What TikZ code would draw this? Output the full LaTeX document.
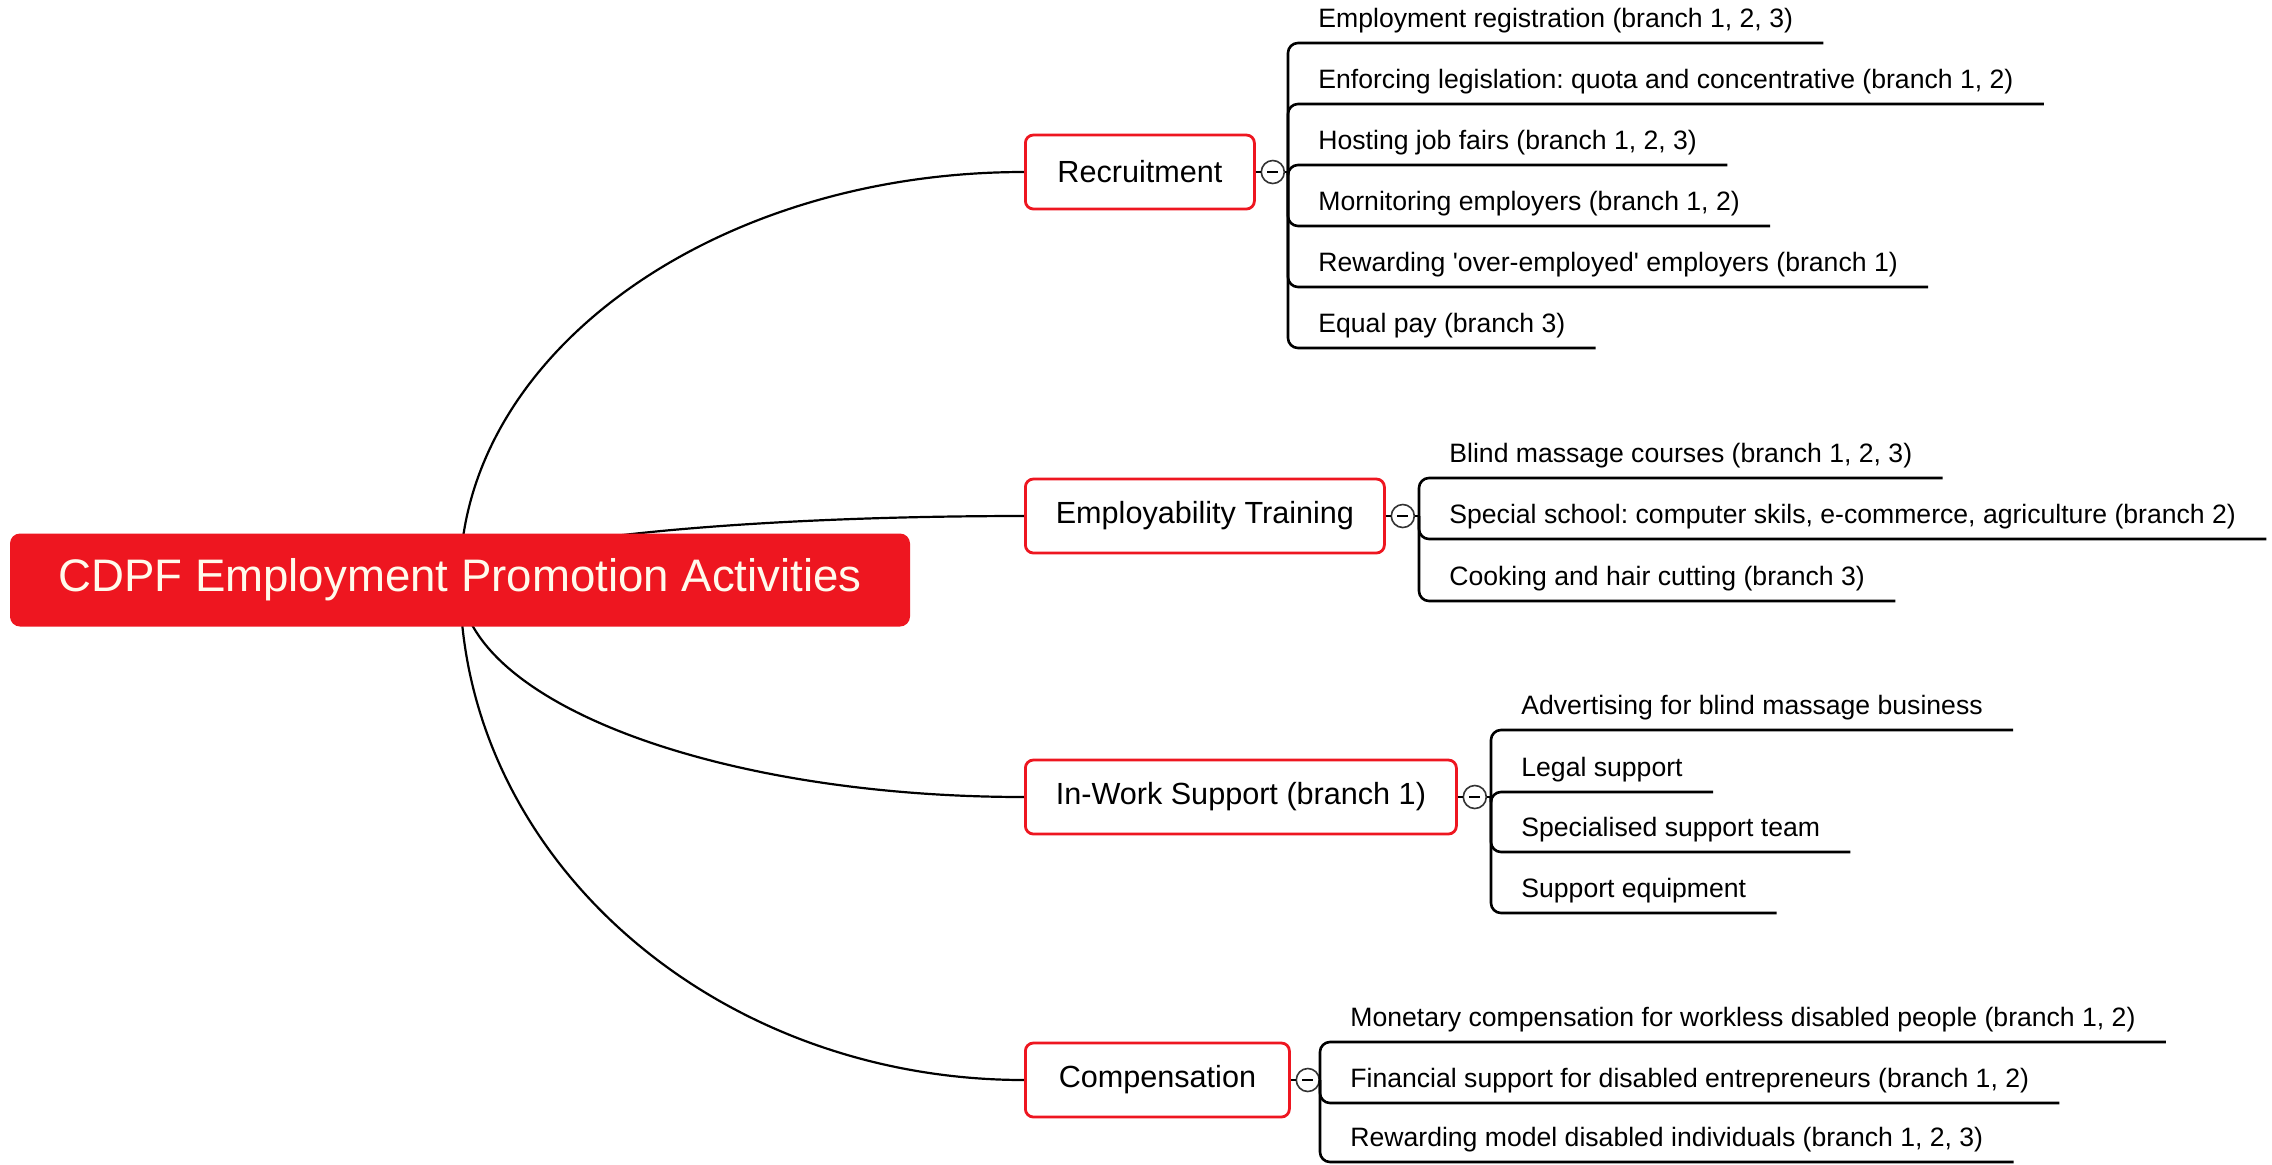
\documentclass[tikz,border=0pt]{standalone}
\usepackage{fontspec}
\setmainfont{Liberation Sans}
\usetikzlibrary{backgrounds,calc}
\definecolor{mred}{RGB}{238,22,32}
\definecolor{rootwhite}{RGB}{255,250,236}
\frenchspacing
\begin{document}
\begin{tikzpicture}[x=0.5pt,y=-0.5pt,
  rootbox/.style={fill=mred, draw=none, rounded corners=5pt, text=rootwhite,
    font=\fontsize{22.8}{26}\selectfont, minimum width=450pt, minimum height=46.5pt, inner sep=0pt},
  childbox/.style={draw=mred, line width=1.4pt, fill=white, rounded corners=4pt,
    font=\fontsize{15.3}{18}\selectfont, minimum height=37pt, inner sep=0pt, anchor=west},
  toggle/.style={circle, draw=black!80, line width=0.8pt, fill=white, minimum size=11.5pt, inner sep=0pt},
  leaf/.style={anchor=south west, font=\fontsize{13.3}{16}\selectfont, inner xsep=15pt, inner ysep=7.5pt, text depth=0pt},
  conn/.style={line width=1.1pt, black},
  uline/.style={line width=1.3pt, black, rounded corners=5pt},
  minus/.style={line width=0.9pt, black}
]
\useasboundingbox (0,0) rectangle (2272,1164);

% root and main branches
\node[rootbox] (root) at (460,580) {\raisebox{-1.5pt}{CDPF Employment Promotion Activities}};
\node[childbox, minimum width=114.5pt] (rec) at (1024,172) {Recruitment};
\node[childbox, minimum width=179.5pt] (emp) at (1024,516) {Employability Training};
\node[childbox, minimum width=215.5pt] (inw) at (1024,797) {In-Work Support (branch 1)};
\node[childbox, minimum width=132pt] (comp) at (1024,1080) {Compensation};

% toggles
\node[toggle] (rect) at ($(rec.east)+(17,0)$) {};
\node[toggle] (empt) at ($(emp.east)+(17,0)$) {};
\node[toggle] (inwt) at ($(inw.east)+(17,0)$) {};
\node[toggle] (compt) at ($(comp.east)+(17,0)$) {};
\foreach \t in {rect,empt,inwt,compt}{
  \draw[minus] ([xshift=-2.8pt]\t.center) -- ([xshift=2.8pt]\t.center);
}
\draw[conn] (rec.east) -- (rect.west);
\draw[conn] (emp.east) -- (empt.west);
\draw[conn] (inw.east) -- (inwt.west);
\draw[conn] (comp.east) -- (compt.west);

% Recruitment leaves
\node[leaf] (r1) at (1288,43) {Employment registration (branch 1, 2, 3)};
\node[leaf] (r2) at (1288,104) {Enforcing legislation: quota and concentrative (branch 1, 2)};
\node[leaf] (r3) at (1288,165) {Hosting job fairs (branch 1, 2, 3)};
\node[leaf] (r4) at (1288,226) {Mornitoring employers (branch 1, 2)};
\node[leaf] (r5) at (1288,287) {Rewarding \textquotesingle over-employed\textquotesingle{} employers (branch 1)};
\node[leaf] (r6) at (1288,348) {Equal pay (branch 3)};
\draw[conn] (rect.east) -- (rect.east -| r1.south west);
\foreach \l in {r1,r2,r3,r4,r5,r6}{
  \draw[uline] (rect.east -| \l.south west) |- (\l.south east);
}

% Employability leaves
\node[leaf] (e1) at (1419,478) {Blind massage courses (branch 1, 2, 3)};
\node[leaf] (e2) at (1419,539) {Special school: computer skils, e-commerce, agriculture (branch 2)};
\node[leaf] (e3) at (1419,601) {Cooking and hair cutting (branch 3)};
\draw[conn] (empt.east) -- (empt.east -| e1.south west);
\foreach \l in {e1,e2,e3}{
  \draw[uline] (empt.east -| \l.south west) |- (\l.south east);
}

% In-work leaves
\node[leaf] (i1) at (1491,730) {Advertising for blind massage business};
\node[leaf] (i2) at (1491,792) {Legal support};
\node[leaf] (i3) at (1491,852) {Specialised support team};
\node[leaf] (i4) at (1491,913) {Support equipment};
\draw[conn] (inwt.east) -- (inwt.east -| i1.south west);
\foreach \l in {i1,i2,i3,i4}{
  \draw[uline] (inwt.east -| \l.south west) |- (\l.south east);
}

% Compensation leaves
\node[leaf] (c1) at (1320,1042) {Monetary compensation for workless disabled people (branch 1, 2)};
\node[leaf] (c2) at (1320,1103) {Financial support for disabled entrepreneurs (branch 1, 2)};
\node[leaf] (c3) at (1320,1162) {Rewarding model disabled individuals (branch 1, 2, 3)};
\draw[conn] (compt.east) -- (compt.east -| c1.south west);
\foreach \l in {c1,c2,c3}{
  \draw[uline] (compt.east -| \l.south west) |- (\l.south east);
}

% curves (quarter ellipses) behind the root
\begin{scope}[on background layer]
  \fill[white] (0,0) rectangle (2272,1164);
  \foreach \c in {rec,emp,inw,comp}{
    \draw[conn] (root.center)
      .. controls ($(root.center)!0.5523!(root.center |- \c.west)$)
             and ($(\c.west)!0.5523!(root.center |- \c.west)$) .. (\c.west);
  }
\end{scope}
\end{tikzpicture}
\end{document}
